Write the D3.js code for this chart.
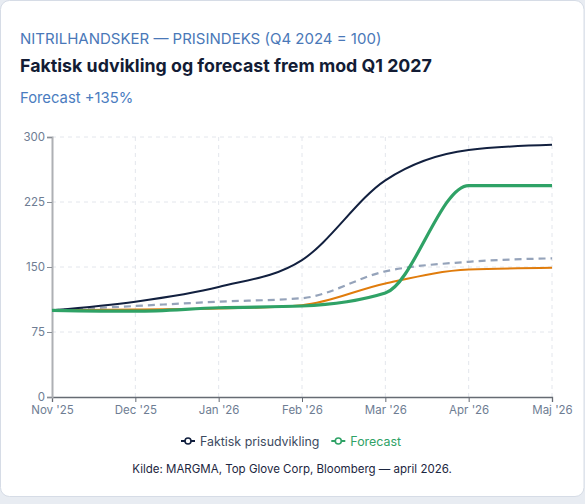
<!DOCTYPE html>
<html>
<head>
<meta charset="utf-8">
<script src="https://cdn.jsdelivr.net/npm/d3@7"></script>
<style>
	html, body { margin: 0; padding: 0; background: #e8ecf2; }
	body { width: 585px; height: 504px; overflow: hidden; font-family: Inter, "Noto Sans", sans-serif; }
</style>
</head>
<body>
<div id="chart"></div>
<script>
// data
const months = ["Nov '25", "Dec '25", "Jan '26", "Feb '26", "Mar '26", "Apr '26", "Maj '26"]
const actual = [100, 110, 127, 158, 250, 285, 291]
const forecast = [100, 99, 103, 105, 120, 244, 244]
const orangeSeries = [100, 101, 102, 106, 131, 147, 149]
const dashedSeries = [100, 105, 110, 114, 145, 156, 160]
const yTicks = [0, 75, 150, 225, 300]

const W = 585, H = 504
const MARGIN = { TOP: 137, LEFT: 52, RIGHT: 33, BOTTOM: 107 }
const WIDTH = W - MARGIN.LEFT - MARGIN.RIGHT
const HEIGHT = H - MARGIN.TOP - MARGIN.BOTTOM

const svg = d3.select("#chart")
	.append("svg")
		.attr("width", W)
		.attr("height", H)

// card
svg.append("rect")
	.attr("x", 0.5).attr("y", 0.5)
	.attr("width", W - 1.5).attr("height", 496)
	.attr("rx", 9)
	.attr("fill", "#fff")
	.attr("stroke", "#d6dce6")

// header texts
svg.append("text")
	.attr("x", 20).attr("y", 44)
	.attr("fill", "#4a78b8")
	.attr("font-size", 15)
	.text("NITRILHANDSKER — PRISINDEKS (Q4 2024 = 100)")

svg.append("text")
	.attr("x", 20).attr("y", 72)
	.attr("fill", "#131c35")
	.attr("font-size", 17.8)
	.attr("font-weight", 700)
	.text("Faktisk udvikling og forecast frem mod Q1 2027")

svg.append("text")
	.attr("x", 20).attr("y", 103)
	.attr("fill", "#4a7cc0")
	.attr("font-size", 14.8)
	.text("Forecast +135%")

const g = svg.append("g")
	.attr("transform", `translate(${MARGIN.LEFT}, ${MARGIN.TOP})`)

// x
const x = d3.scalePoint()
	.domain(months)
	.range([0, WIDTH])

// y
const y = d3.scaleLinear()
	.domain([0, 300])
	.range([HEIGHT, 0])

// grid
g.append("g")
	.selectAll("line")
	.data(yTicks.filter(d => d > 0))
	.join("line")
		.attr("x1", 0).attr("x2", WIDTH)
		.attr("y1", d => y(d)).attr("y2", d => y(d))
		.attr("stroke", "#e3e6ec")
		.attr("stroke-dasharray", "4,4")

g.append("g")
	.selectAll("line")
	.data(months.slice(1))
	.join("line")
		.attr("x1", d => x(d)).attr("x2", d => x(d))
		.attr("y1", 0).attr("y2", HEIGHT)
		.attr("stroke", "#e3e6ec")
		.attr("stroke-dasharray", "4,4")

// axes
const xAxis = g.append("g")
	.attr("transform", `translate(0, ${HEIGHT})`)
	.call(d3.axisBottom(x).tickSize(5).tickPadding(4))
xAxis.select(".domain").attr("stroke", "#666b73").attr("stroke-width", 1.3)
xAxis.selectAll(".tick line").attr("stroke", "#666b73")
xAxis.selectAll("text")
	.attr("fill", "#6e7d93")
	.attr("font-size", 11.5)
	.attr("font-family", "Inter, sans-serif")

const yAxis = g.append("g")
	.call(d3.axisLeft(y).tickValues(yTicks).tickSize(5).tickPadding(2))
yAxis.select(".domain").attr("stroke", "#aeb0b4").attr("stroke-width", 2)
yAxis.selectAll(".tick line").attr("stroke", "#8a8f96")
yAxis.selectAll("text")
	.attr("fill", "#6e7d93")
	.attr("font-size", 11.5)
	.attr("font-family", "Inter, sans-serif")

const line = d3.line()
	.x((d, i) => x(months[i]))
	.y(d => y(d))
	.curve(d3.curveMonotoneX)

// lines
g.append("path")
	.datum(dashedSeries)
	.attr("d", line)
	.attr("fill", "none")
	.attr("stroke", "#95a3ba")
	.attr("stroke-width", 2.2)
	.attr("stroke-dasharray", "7,5")

g.append("path")
	.datum(orangeSeries)
	.attr("d", line)
	.attr("fill", "none")
	.attr("stroke", "#e07c0c")
	.attr("stroke-width", 2)

g.append("path")
	.datum(actual)
	.attr("d", line)
	.attr("fill", "none")
	.attr("stroke", "#12203f")
	.attr("stroke-width", 2)

g.append("path")
	.datum(forecast)
	.attr("d", line)
	.attr("fill", "none")
	.attr("stroke", "#2fa266")
	.attr("stroke-width", 3.2)

// legend, laid out by measured text width and centred
const legendItems = [
	{ label: "Faktisk prisudvikling", color: "#12203f", text: "#3c4a60" },
	{ label: "Forecast", color: "#2fa266", text: "#2fa266" }
]
const legendG = svg.append("g")
const legend = legendG
	.selectAll("g")
	.data(legendItems)
	.join("g")
legend.append("line")
	.attr("x1", 0).attr("x2", 14)
	.attr("stroke", d => d.color)
	.attr("stroke-width", 2)
legend.append("circle")
	.attr("cx", 7).attr("r", 3)
	.attr("fill", "#fff")
	.attr("stroke", d => d.color)
	.attr("stroke-width", 1.6)
legend.append("text")
	.attr("x", 19).attr("y", 4.5)
	.attr("fill", d => d.text)
	.attr("font-size", 12.4)
	.text(d => d.label)

let lx = 0
legend.each(function() {
	const w = this.getBBox().width
	d3.select(this).attr("transform", `translate(${lx}, 0)`)
	lx += w + 12
})
const total = lx - 12
legendG.attr("transform", `translate(${291 - total / 2}, 441)`)

// source
svg.append("text")
	.attr("x", 292).attr("y", 473)
	.attr("text-anchor", "middle")
	.attr("fill", "#1c2640")
	.attr("font-size", 11.5)
	.text("Kilde: MARGMA, Top Glove Corp, Bloomberg — april 2026.")
</script>
</body>
</html>
